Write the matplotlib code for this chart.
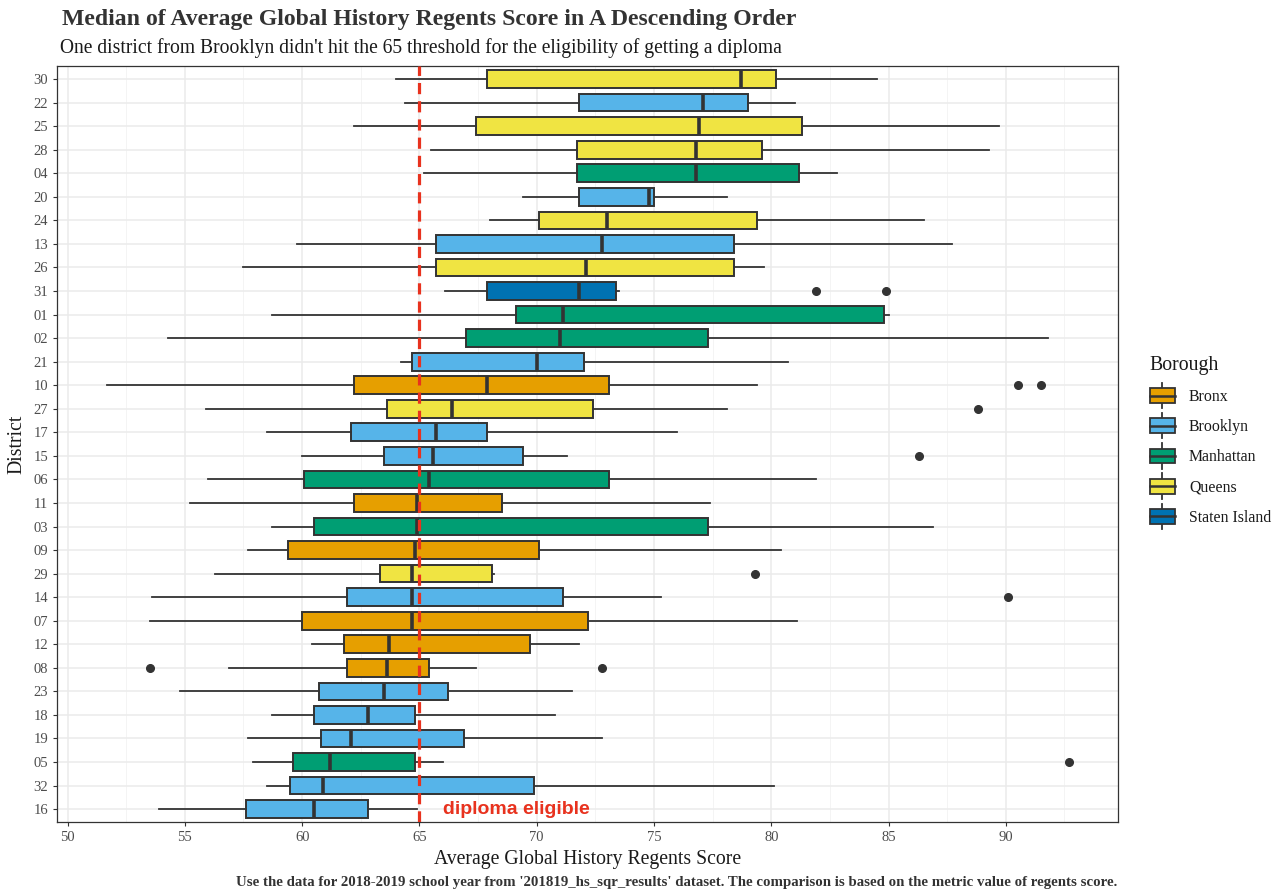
import matplotlib
matplotlib.use("Agg")
import matplotlib.pyplot as plt
from matplotlib.patches import Patch, Rectangle
from matplotlib.lines import Line2D
from matplotlib.legend_handler import HandlerBase

# districts from top to bottom, as in the chart
districts = ['30', '22', '25', '28', '04', '20', '24', '13', '26', '31',
             '01', '02', '21', '10', '27', '17', '15', '06', '11', '03',
             '09', '29', '14', '07', '12', '08', '23', '18', '19', '05',
             '32', '16']
borough = ['Queens', 'Brooklyn', 'Queens', 'Queens', 'Manhattan', 'Brooklyn',
           'Queens', 'Brooklyn', 'Queens', 'Staten Island',
           'Manhattan', 'Manhattan', 'Brooklyn', 'Bronx', 'Queens',
           'Brooklyn', 'Brooklyn', 'Manhattan', 'Bronx', 'Manhattan',
           'Bronx', 'Queens', 'Brooklyn', 'Bronx', 'Bronx', 'Bronx',
           'Brooklyn', 'Brooklyn', 'Brooklyn', 'Manhattan', 'Brooklyn',
           'Brooklyn']
whislo = [64.0, 64.4, 62.2, 65.5, 65.2, 69.4, 68.0, 59.8, 57.5, 66.1,
          58.7, 54.3, 64.2, 51.7, 55.9, 58.5, 60.0, 56.0, 55.2, 58.7,
          57.7, 56.3, 53.6, 53.5, 60.4, 56.9, 54.8, 58.7, 57.7, 57.9,
          58.5, 53.9]
q1 = [67.9, 71.8, 67.4, 71.7, 71.7, 71.8, 70.1, 65.7, 65.7, 67.9,
      69.1, 67.0, 64.7, 62.2, 63.6, 62.1, 63.5, 60.1, 62.2, 60.5,
      59.4, 63.3, 61.9, 60.0, 61.8, 61.9, 60.7, 60.5, 60.8, 59.6,
      59.5, 57.6]
med = [78.7, 77.1, 76.9, 76.8, 76.8, 74.8, 73.0, 72.8, 72.1, 71.8,
       71.1, 71.0, 70.0, 67.9, 66.4, 65.7, 65.6, 65.4, 64.9, 64.9,
       64.8, 64.7, 64.7, 64.7, 63.7, 63.6, 63.5, 62.8, 62.1, 61.2,
       60.9, 60.5]
q3 = [80.2, 79.0, 81.3, 79.6, 81.2, 75.0, 79.4, 78.4, 78.4, 73.4,
      84.8, 77.3, 72.0, 73.1, 72.4, 67.9, 69.4, 73.1, 68.5, 77.3,
      70.1, 68.1, 71.1, 72.2, 69.7, 65.4, 66.2, 64.8, 66.9, 64.8,
      69.9, 62.8]
whishi = [84.5, 81.0, 89.7, 89.3, 82.8, 78.1, 86.5, 87.7, 79.7, 73.5,
          85.0, 91.8, 80.7, 79.4, 78.1, 76.0, 71.3, 81.9, 77.4, 86.9,
          80.4, 68.2, 75.3, 81.1, 71.8, 67.4, 71.5, 70.8, 72.8, 66.0,
          80.1, 64.9]
outliers = {'31': [81.9, 84.9], '10': [90.5, 91.5], '27': [88.8],
            '15': [86.3], '29': [79.3], '14': [90.1],
            '08': [53.5, 72.8], '05': [92.7]}

palette = {'Bronx': '#E69F00', 'Brooklyn': '#56B4E9', 'Manhattan': '#009E73',
           'Queens': '#F0E442', 'Staten Island': '#0072B2'}
edge = '#333333'

fig = plt.figure(figsize=(12.84, 8.94), dpi=100)
ax = fig.add_axes([0.0444, 0.0805, 0.8263, 0.8455])

n = len(districts)
pos = [n - i for i in range(n)]
stats = []
for i, d in enumerate(districts):
    stats.append(dict(whislo=whislo[i], q1=q1[i], med=med[i], q3=q3[i],
                      whishi=whishi[i], fliers=outliers.get(d, []), label=d))

bp = ax.bxp(stats, positions=pos, widths=0.75, vert=False, patch_artist=True,
            showcaps=False,
            boxprops=dict(edgecolor=edge, linewidth=1.4),
            whiskerprops=dict(color=edge, linewidth=1.3),
            medianprops=dict(color=edge, linewidth=2.6, solid_capstyle='butt'),
            flierprops=dict(marker='o', markerfacecolor=edge, markeredgecolor=edge,
                            markersize=5.5))
for box, b in zip(bp['boxes'], borough):
    box.set_facecolor(palette[b])

ax.axvline(65, color='#E8321E', linewidth=2.3, linestyle=(0, (3.5, 2.2)), zorder=10)
ax.text(66.0, 1, 'diploma eligible', color='#E8321E', fontsize=14,
        fontweight='bold', family='Liberation Sans', va='center', ha='left', zorder=11)

ax.set_xlim(49.55, 94.78)
ax.set_ylim(0.45, n + 0.55)
ax.set_xticks(range(50, 95, 5))
ax.set_xticks([52.5 + 5 * k for k in range(9)], minor=True)
ax.set_yticks(pos)
ax.set_yticklabels(districts)
ax.grid(True, which='major', color='#EBEBEB', linewidth=1.1)
ax.grid(True, which='minor', axis='x', color='#F2F2F2', linewidth=0.6)
ax.set_axisbelow(True)
for s in ax.spines.values():
    s.set_color('#333333')
    s.set_linewidth(0.9)
ax.tick_params(axis='both', which='major', length=3, color='#333333',
               labelsize=10.5, labelcolor='#4D4D4D')
ax.tick_params(axis='x', which='minor', length=0)
for lab in ax.get_xticklabels() + ax.get_yticklabels():
    lab.set_family('Liberation Serif')

ax.set_xlabel('Average Global History Regents Score', family='Liberation Serif',
              fontsize=14.2, color='#1A1A1A', labelpad=4)
ax.set_ylabel('District', family='Liberation Serif', fontsize=14.2,
              color='#1A1A1A', labelpad=5)

fig.text(0.048, 0.972, 'Median of Average Global History Regents Score in A Descending Order',
         family='Liberation Serif', fontweight='bold', fontsize=17.1, color='#333333',
         va='baseline')
fig.text(0.047, 0.941, "One district from Brooklyn didn't hit the 65 threshold for the eligibility of getting a diploma",
         family='Liberation Serif', fontsize=14.1, color='#1A1A1A', va='baseline')
fig.text(0.870, 0.013, "Use the data for 2018-2019 school year from '201819_hs_sqr_results' dataset. "
         "The comparison is based on the metric value of regents score.",
         family='Liberation Serif', fontweight='bold', fontsize=10.7, color='#333333',
         ha='right', va='center')


class BoxKey(HandlerBase):
    def create_artists(self, legend, orig_handle, xdescent, ydescent, width,
                       height, fontsize, trans):
        cx = width / 2 - xdescent
        bw = width * 0.95
        bh = height * 0.95
        midy = height / 2 - ydescent
        y0 = midy - bh / 2
        rect = Rectangle((cx - bw / 2, y0), bw, bh, facecolor=orig_handle.get_facecolor(),
                         edgecolor=edge, linewidth=1.3, transform=trans)
        m = Line2D([cx - bw / 2, cx + bw / 2], [midy, midy], color=edge,
                   linewidth=1.8, transform=trans)
        w1 = Line2D([cx, cx], [midy - bh * 0.85, y0], color=edge,
                    linewidth=1.3, transform=trans)
        w2 = Line2D([cx, cx], [y0 + bh, midy + bh * 0.85], color=edge,
                    linewidth=1.3, transform=trans)
        return [w1, w2, rect, m]


handles = [Patch(facecolor=palette[b], label=b) for b in palette]
leg = fig.legend(handles=handles, labels=list(palette), handler_map={Patch: BoxKey()},
                 loc='center left', bbox_to_anchor=(0.884, 0.507), frameon=False,
                 title='Borough', handlelength=1.65, handleheight=1.15,
                 labelspacing=0.82, handletextpad=0.85,
                 prop={'family': 'Liberation Serif', 'size': 11.4})
leg.get_title().set_family('Liberation Serif')
leg.get_title().set_fontsize(14.3)
leg.get_title().set_color('#1A1A1A')
leg._legend_box.align = 'left'
for t in leg.get_texts():
    t.set_color('#1A1A1A')

fig.savefig('out.png', dpi=100)
